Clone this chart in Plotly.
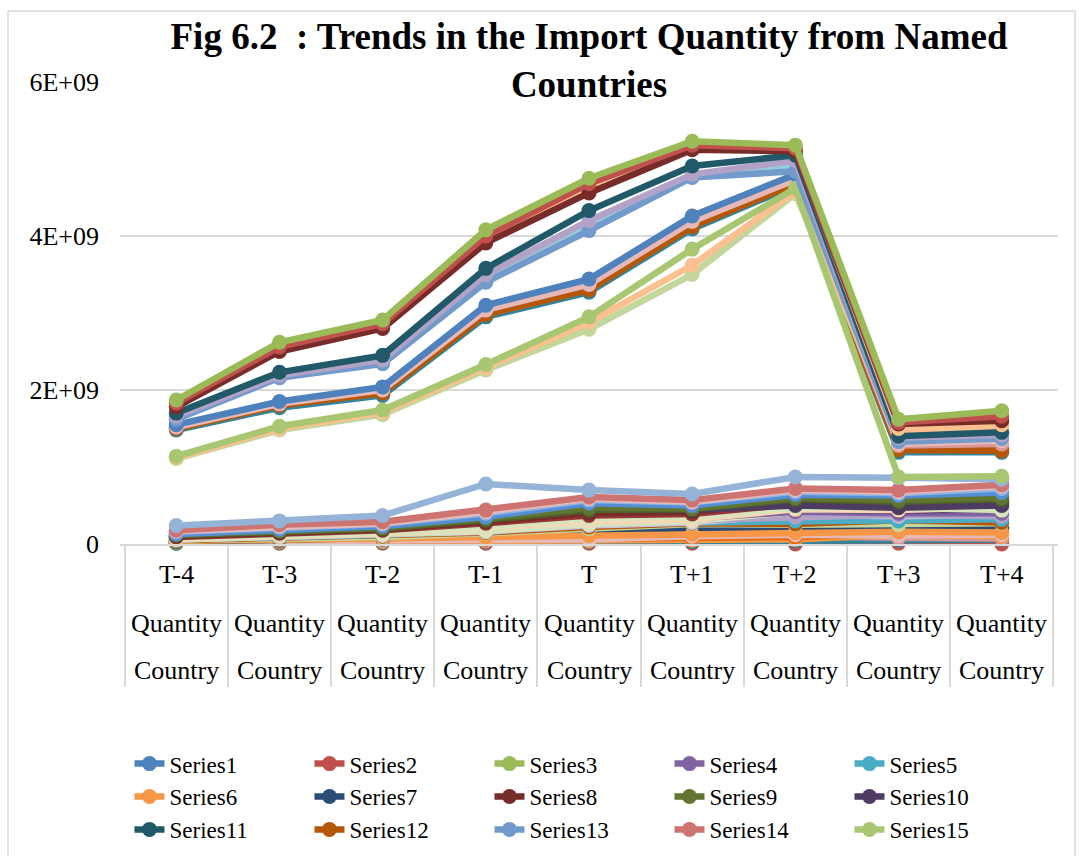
import plotly.graph_objects as go

# ---------------- data ----------------
categories = ["T-4", "T-3", "T-2", "T-1", "T", "T+1", "T+2", "T+3", "T+4"]
row2_labels = ["Quantity"] * 9
row3_labels = ["Country"] * 9
y_tick_values = [0, 2e9, 4e9, 6e9]
y_tick_labels = ["0", "2E+09", "4E+09", "6E+09"]

# legend series
series1 = [1.55e9, 1.85e9, 2.04e9, 3.10e9, 3.44e9, 4.26e9, 4.80e9, 1.36e9, 1.40e9]
series2 = [1.83e9, 2.56e9, 2.86e9, 4.00e9, 4.68e9, 5.18e9, 5.14e9, 1.58e9, 1.66e9]
series3 = [1.87e9, 2.62e9, 2.91e9, 4.08e9, 4.75e9, 5.23e9, 5.18e9, 1.62e9, 1.73e9]
series4 = [0.09e9, 0.13e9, 0.16e9, 0.26e9, 0.32e9, 0.33e9, 0.42e9, 0.40e9, 0.40e9]
series5 = [0.06e9, 0.09e9, 0.12e9, 0.18e9, 0.25e9, 0.28e9, 0.30e9, 0.30e9, 0.32e9]
series6 = [0.02e9, 0.03e9, 0.04e9, 0.05e9, 0.04e9, 0.05e9, 0.06e9, 0.12e9, 0.10e9]
series7 = [0.04e9, 0.06e9, 0.08e9, 0.12e9, 0.16e9, 0.24e9, 0.19e9, 0.20e9, 0.22e9]
series8 = [1.78e9, 2.50e9, 2.80e9, 3.91e9, 4.56e9, 5.12e9, 5.10e9, 1.56e9, 1.60e9]
series9 = [0.12e9, 0.17e9, 0.21e9, 0.33e9, 0.47e9, 0.46e9, 0.60e9, 0.57e9, 0.60e9]
series10 = [0.14e9, 0.21e9, 0.24e9, 0.36e9, 0.45e9, 0.44e9, 0.50e9, 0.47e9, 0.50e9]
series11 = [1.70e9, 2.23e9, 2.45e9, 3.58e9, 4.33e9, 4.91e9, 5.05e9, 1.40e9, 1.45e9]
series12 = [1.50e9, 1.80e9, 1.96e9, 2.98e9, 3.30e9, 4.12e9, 4.68e9, 1.22e9, 1.21e9]
series13 = [1.62e9, 2.16e9, 2.34e9, 3.40e9, 4.07e9, 4.76e9, 4.84e9, 1.33e9, 1.37e9]
series14 = [0.18e9, 0.25e9, 0.29e9, 0.44e9, 0.61e9, 0.57e9, 0.72e9, 0.70e9, 0.77e9]
series15 = [1.14e9, 1.53e9, 1.74e9, 2.33e9, 2.95e9, 3.83e9, 4.62e9, 0.87e9, 0.88e9]

# further series (not listed in the legend)
series16 = [1.80e9, 2.53e9, 2.83e9, 3.95e9, 4.62e9, 5.15e9, 5.12e9, 1.50e9, 1.55e9]
series17 = [1.66e9, 2.19e9, 2.39e9, 3.50e9, 4.20e9, 4.80e9, 4.98e9, 1.38e9, 1.42e9]
series18 = [1.52e9, 1.82e9, 2.00e9, 3.04e9, 3.37e9, 4.19e9, 4.73e9, 1.30e9, 1.34e9]
series19 = [1.48e9, 1.77e9, 1.93e9, 2.95e9, 3.27e9, 4.09e9, 4.66e9, 1.19e9, 1.19e9]
series20 = [1.12e9, 1.50e9, 1.71e9, 2.29e9, 2.88e9, 3.62e9, 4.58e9, 1.47e9, 1.52e9]
series21 = [1.11e9, 1.48e9, 1.68e9, 2.26e9, 2.79e9, 3.50e9, 4.55e9, 1.44e9, 1.48e9]
series22 = [1.51e9, 1.81e9, 1.97e9, 3.00e9, 3.32e9, 4.14e9, 4.70e9, 1.24e9, 1.23e9]
series23 = [0.24e9, 0.30e9, 0.37e9, 0.78e9, 0.70e9, 0.65e9, 0.87e9, 0.86e9, 0.84e9]
series24 = [0.02e9, 0.03e9, 0.03e9, 0.04e9, 0.05e9, 0.09e9, 0.10e9, 0.08e9, 0.07e9]
series25 = [0.08e9, 0.12e9, 0.15e9, 0.22e9, 0.33e9, 0.35e9, 0.47e9, 0.47e9, 0.44e9]
series26 = [0.05e9, 0.08e9, 0.10e9, 0.15e9, 0.22e9, 0.27e9, 0.26e9, 0.31e9, 0.28e9]
series27 = [0.03e9, 0.05e9, 0.06e9, 0.10e9, 0.17e9, 0.23e9, 0.17e9, 0.22e9, 0.20e9]
series28 = [0.13e9, 0.19e9, 0.23e9, 0.35e9, 0.53e9, 0.50e9, 0.64e9, 0.63e9, 0.67e9]
series29 = [0.01e9, 0.01e9, 0.01e9, 0.01e9, 0.01e9, 0.01e9, 0.00e9, 0.01e9, 0.00e9]
series30 = [0.10e9, 0.15e9, 0.19e9, 0.29e9, 0.40e9, 0.42e9, 0.55e9, 0.52e9, 0.55e9]
series31 = [0.03e9, 0.04e9, 0.05e9, 0.07e9, 0.06e9, 0.10e9, 0.12e9, 0.11e9, 0.12e9]
series32 = [0.01e9, 0.02e9, 0.02e9, 0.03e9, 0.03e9, 0.03e9, 0.04e9, 0.05e9, 0.06e9]
series33 = [0.07e9, 0.10e9, 0.13e9, 0.20e9, 0.28e9, 0.31e9, 0.35e9, 0.38e9, 0.36e9]
series34 = [0.05e9, 0.07e9, 0.09e9, 0.14e9, 0.20e9, 0.26e9, 0.25e9, 0.25e9, 0.27e9]
series35 = [0.03e9, 0.05e9, 0.07e9, 0.11e9, 0.14e9, 0.20e9, 0.21e9, 0.19e9, 0.21e9]
series36 = [0.04e9, 0.06e9, 0.07e9, 0.09e9, 0.11e9, 0.13e9, 0.15e9, 0.16e9, 0.15e9]
series37 = [0.115e9, 0.165e9, 0.20e9, 0.31e9, 0.44e9, 0.45e9, 0.58e9, 0.55e9, 0.58e9]
series38 = [0.02e9, 0.03e9, 0.04e9, 0.06e9, 0.08e9, 0.07e9, 0.09e9, 0.14e9, 0.12e9]
series39 = [0.06e9, 0.10e9, 0.12e9, 0.17e9, 0.26e9, 0.30e9, 0.42e9, 0.43e9, 0.46e9]
series40 = [0.06e9, 0.09e9, 0.11e9, 0.16e9, 0.24e9, 0.28e9, 0.38e9, 0.36e9, 0.38e9]
series41 = [0.07e9, 0.11e9, 0.14e9, 0.21e9, 0.30e9, 0.32e9, 0.45e9, 0.44e9, 0.48e9]
series42 = [0.16e9, 0.22e9, 0.26e9, 0.40e9, 0.57e9, 0.54e9, 0.68e9, 0.66e9, 0.72e9]
series43 = [0.09e9, 0.14e9, 0.18e9, 0.27e9, 0.37e9, 0.39e9, 0.52e9, 0.50e9, 0.52e9]
series44 = [0.17e9, 0.23e9, 0.27e9, 0.42e9, 0.59e9, 0.55e9, 0.70e9, 0.68e9, 0.75e9]
series45 = [0.02e9, 0.04e9, 0.05e9, 0.08e9, 0.10e9, 0.12e9, 0.13e9, 0.15e9, 0.17e9]
series46 = [0.08e9, 0.13e9, 0.16e9, 0.25e9, 0.35e9, 0.37e9, 0.45e9, 0.43e9, 0.45e9]
series47 = [1.53e9, 1.83e9, 2.01e9, 3.06e9, 3.39e9, 4.21e9, 4.75e9, 1.28e9, 1.30e9]
series48 = [1.64e9, 2.17e9, 2.36e9, 3.45e9, 4.14e9, 4.78e9, 4.90e9, 1.35e9, 1.39e9]

all_series = {
    "Series1": series1, "Series2": series2, "Series3": series3, "Series4": series4,
    "Series5": series5, "Series6": series6, "Series7": series7, "Series8": series8,
    "Series9": series9, "Series10": series10, "Series11": series11, "Series12": series12,
    "Series13": series13, "Series14": series14, "Series15": series15,
    "Series16": series16, "Series17": series17, "Series18": series18, "Series19": series19,
    "Series20": series20, "Series21": series21, "Series22": series22, "Series23": series23,
    "Series24": series24, "Series25": series25, "Series26": series26, "Series27": series27,
    "Series28": series28, "Series29": series29, "Series30": series30, "Series31": series31,
    "Series32": series32, "Series33": series33, "Series34": series34, "Series35": series35,
    "Series36": series36, "Series37": series37, "Series38": series38, "Series39": series39,
    "Series40": series40, "Series41": series41, "Series42": series42, "Series43": series43,
    "Series44": series44, "Series45": series45, "Series46": series46, "Series47": series47,
    "Series48": series48,
}

# ---------------- style ----------------
colors = {
    "Series1": "#4F81BD", "Series2": "#C0504D", "Series3": "#9BBB59", "Series4": "#8064A2",
    "Series5": "#4BACC6", "Series6": "#F79646", "Series7": "#2C4D75", "Series8": "#772C2A",
    "Series9": "#5F7530", "Series10": "#4D3B62", "Series11": "#215968", "Series12": "#B65708",
    "Series13": "#729ACA", "Series14": "#CD7371", "Series15": "#A9C673",
    "Series16": "#FAC090", "Series17": "#B3A2C7", "Series18": "#E6B9B8", "Series19": "#31859C",
    "Series20": "#FAC090", "Series21": "#C3D69B", "Series22": "#984807", "Series23": "#95B3D7",
    "Series24": "#D99694", "Series25": "#D7E4BD", "Series26": "#B65708", "Series27": "#77933C",
    "Series28": "#558ED5", "Series29": "#C0504D", "Series30": "#772C2A", "Series31": "#E6B9B8",
    "Series32": "#31859C", "Series33": "#B3A2C7", "Series34": "#C3D69B", "Series35": "#1F497D",
    "Series36": "#F79646", "Series37": "#4F6228", "Series38": "#E46C0A", "Series39": "#D7E4BD",
    "Series40": "#CCC1DA", "Series41": "#FCD5B5", "Series42": "#8EB4E3", "Series43": "#953735",
    "Series44": "#E6B9B8", "Series45": "#4BACC6", "Series46": "#604A7B", "Series47": "#D99694",
    "Series48": "#93CDDD",
}

draw_order = [
    "Series29", "Series32", "Series24", "Series6", "Series38", "Series45", "Series31",
    "Series27", "Series35", "Series7", "Series36", "Series34", "Series26", "Series5",
    "Series40", "Series33", "Series39", "Series4", "Series46", "Series41", "Series25",
    "Series43", "Series30", "Series10", "Series37", "Series9", "Series28", "Series42",
    "Series44", "Series14", "Series23",
    "Series19", "Series22", "Series12", "Series47", "Series18", "Series1", "Series21",
    "Series20", "Series15", "Series48", "Series13", "Series17", "Series11", "Series16",
    "Series8", "Series2", "Series3",
]

SERIF = "Liberation Serif, Times New Roman, serif"
GRID = "#D9D9D9"

fig = go.Figure()
for name in draw_order:
    idx = int(name.replace("Series", ""))
    in_legend = idx <= 15
    col = colors[name]
    fig.add_trace(go.Scatter(
        x=categories, y=all_series[name], name=name, mode="lines+markers",
        line=dict(color=col, width=6.5),
        marker=dict(color=col, size=15, symbol="circle"),
        showlegend=in_legend, legendrank=idx, cliponaxis=False,
        hoverinfo="x+y+name",
    ))

# multi-level category labels
label_rows = [(categories, -0.067), (row2_labels, -0.171), (row3_labels, -0.273)]
for labels, ypos in label_rows:
    for cat, lab in zip(categories, labels):
        fig.add_annotation(x=cat, xref="x", y=ypos, yref="paper", text=lab,
                           showarrow=False, yanchor="middle",
                           font=dict(family=SERIF, size=26, color="#000000"))

fig.update_layout(
    width=1079, height=856,
    margin=dict(l=120, r=21, t=82, b=312),
    paper_bgcolor="white", plot_bgcolor="white",
    title=dict(text="Fig 6.2  : Trends in the Import Quantity from Named<br>Countries",
               x=0.5, xref="paper", xanchor="center",
               y=0.943, yref="container", yanchor="top",
               font=dict(family=SERIF, size=37, color="#000000", weight="bold")),
    font=dict(family=SERIF, color="#000000"),
    showlegend=True,
    legend=dict(orientation="h", xref="container", yref="container",
                x=0.12, y=0.133, xanchor="left", yanchor="top",
                entrywidth=135, entrywidthmode="pixels",
                font=dict(family=SERIF, size=23, color="#000000"),
                traceorder="normal", itemwidth=30, bgcolor="rgba(0,0,0,0)"),
    xaxis=dict(type="category", showgrid=False, showline=True, linecolor=GRID, linewidth=1.5,
               ticks="outside", tickson="boundaries", ticklen=141, tickcolor=GRID, tickwidth=1.5,
               showticklabels=False, zeroline=False, fixedrange=True),
    yaxis=dict(range=[0, 6e9], tickvals=y_tick_values, ticktext=y_tick_labels,
               showgrid=True, gridcolor=GRID, gridwidth=1.5, zeroline=False, showline=False,
               ticks="", ticklabelstandoff=20,
               tickfont=dict(family=SERIF, size=26, color="#000000"), fixedrange=True),
)

# outer chart border
fig.add_shape(type="rect", xref="paper", yref="paper",
              x0=(8 - 120) / 938, x1=(1075 - 120) / 938,
              y0=(544 - 900) / 462, y1=(544 - 11) / 462,
              line=dict(color=GRID, width=1.5), fillcolor="rgba(0,0,0,0)", layer="below")

fig.write_html("out.html", config={"displayModeBar": False},
               post_script="document.body.style.margin='0px';")
